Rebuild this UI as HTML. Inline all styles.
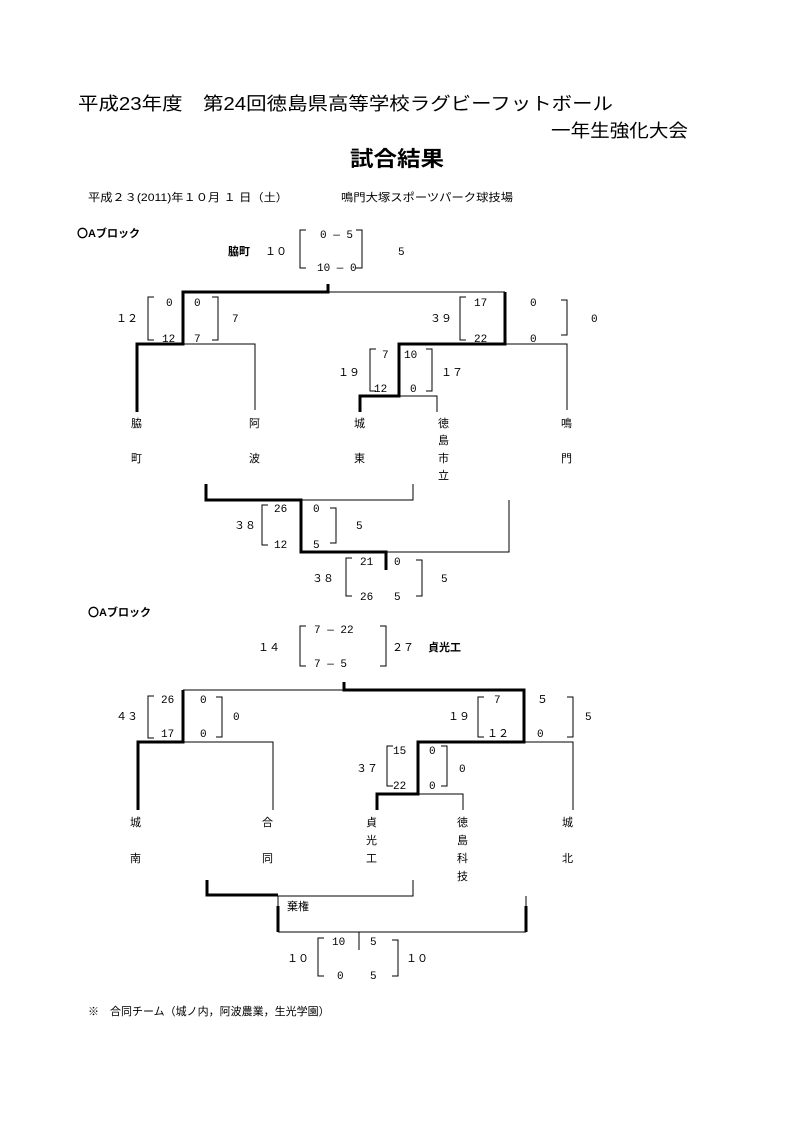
<!DOCTYPE html>
<html><head><meta charset="utf-8"><style>
html,body{margin:0;padding:0;background:#fff}
svg{display:block}
text{font-family:"Liberation Sans","Noto Sans CJK JP",sans-serif;fill:#000}
.s{font-size:11px}
.n{font-size:11px;font-family:"Liberation Mono","Noto Sans CJK JP",monospace}
.t{font-size:12px}
.b{font-weight:bold}
.th{stroke:#000;stroke-width:3;fill:none}
.tn{stroke:#000;stroke-width:1;fill:none}
</style></head><body>
<svg width="794" height="1123" viewBox="0 0 794 1123" xmlns="http://www.w3.org/2000/svg">
<text x="78" y="110" font-size="18" textLength="535" lengthAdjust="spacingAndGlyphs">平成23年度　第24回徳島県高等学校ラグビーフットボール</text>
<text x="551" y="137" font-size="18" textLength="137" lengthAdjust="spacingAndGlyphs">一年生強化大会</text>
<text x="350" y="166" font-size="21" font-weight="bold" textLength="94" lengthAdjust="spacingAndGlyphs">試合結果</text>
<text x="88" y="201" class="s" textLength="200" lengthAdjust="spacingAndGlyphs">平成２３(2011)年１０月 １ 日（土）</text>
<text x="341" y="201" class="s" textLength="172" lengthAdjust="spacingAndGlyphs">鳴門大塚スポーツパーク球技場</text>

<!-- Block 1 -->
<text x="77" y="237" class="s b">〇Aブロック</text>
<text x="228" y="255" class="s b">脇町</text>
<text x="265" y="255" class="n">１０</text>
<path class="tn" d="M306 230H300V268H306M356 230H362V268H356"/>
<text x="320" y="238" class="n">0 — 5</text>
<text x="317" y="271" class="n">10 — 0</text>
<text x="398" y="255" class="n">5</text>

<path class="th" d="M328 284V292H183V344H137V412"/>
<path class="tn" d="M328 292H505M183 344H255V410"/>
<path class="tn" d="M154 297H148V340H154M212 297H218V340H212"/>
<text x="166" y="306" class="n">0</text><text x="162" y="342" class="n">12</text>
<text x="194" y="306" class="n">0</text><text x="194" y="342" class="n">7</text>
<text x="116" y="322" class="n">１２</text><text x="232" y="322" class="n">7</text>

<path class="th" d="M505 292V344H399V396H360V412"/>
<path class="tn" d="M505 344H567V410M399 396H437V412"/>
<path class="tn" d="M466 297H460V340H466M561 300H567V335H561"/>
<text x="474" y="306" class="n">17</text><text x="474" y="342" class="n">22</text>
<text x="530" y="306" class="n">0</text><text x="530" y="342" class="n">0</text>
<text x="430" y="322" class="n">３９</text><text x="591" y="322" class="n">0</text>

<path class="tn" d="M376 349H370V391H376M426 349H432V391H426"/>
<text x="382" y="358" class="n">7</text><text x="374" y="392" class="n">12</text>
<text x="404" y="358" class="n">10</text><text x="410" y="392" class="n">0</text>
<text x="338" y="376" class="n">１９</text><text x="441" y="376" class="n">１７</text>

<g class="s">
<text x="131" y="427">脇</text><text x="131" y="462">町</text>
<text x="249" y="427">阿</text><text x="249" y="462">波</text>
<text x="354" y="427">城</text><text x="354" y="462">東</text>
<text x="438" y="427">徳</text><text x="438" y="444">島</text><text x="438" y="462">市</text><text x="438" y="479">立</text>
<text x="561" y="427">鳴</text><text x="561" y="462">門</text>
</g>

<path class="th" d="M206 484V500H301V552H386V570"/>
<path class="tn" d="M301 500H413V484M386 552H509V500"/>
<path class="tn" d="M268 505H262V545H268M330 508H336V543H330"/>
<text x="274" y="512" class="n">26</text><text x="274" y="548" class="n">12</text>
<text x="313" y="512" class="n">0</text><text x="313" y="548" class="n">5</text>
<text x="234" y="529" class="n">３８</text><text x="356" y="529" class="n">5</text>
<path class="tn" d="M352 558H346V596H352M416 560H422V596H416"/>
<text x="360" y="565" class="n">21</text><text x="360" y="600" class="n">26</text>
<text x="394" y="565" class="n">0</text><text x="394" y="600" class="n">5</text>
<text x="312" y="582" class="n">３８</text><text x="441" y="582" class="n">5</text>

<!-- Block 2 -->
<text x="88" y="616" class="s b">〇Aブロック</text>
<text x="258" y="651" class="n">１４</text>
<path class="tn" d="M306 626H300V666H306M380 626H386V666H380"/>
<text x="314" y="633" class="n">7 — 22</text>
<text x="314" y="667" class="n">7 — 5</text>
<text x="392" y="651" class="n">２７</text>
<text x="428" y="651" class="s b">貞光工</text>

<path class="th" d="M344 682V690H524V742H418V794H377V810M183 690V742H138V810"/>
<path class="tn" d="M183 690H344M183 742H273V810M524 742H573V810M418 794H463V810"/>
<path class="tn" d="M154 696H148V738H154M216 697H222V737H216"/>
<text x="161" y="703" class="n">26</text><text x="161" y="737" class="n">17</text>
<text x="200" y="703" class="n">0</text><text x="200" y="737" class="n">0</text>
<text x="116" y="720" class="n">４３</text><text x="233" y="720" class="n">0</text>
<path class="tn" d="M484 697H478V737H484M567 697H573V737H567"/>
<text x="494" y="703" class="n">7</text><text x="487" y="737" class="n">１２</text>
<text x="537" y="703" class="n">５</text><text x="537" y="737" class="n">0</text>
<text x="448" y="720" class="n">１９</text><text x="585" y="720" class="n">5</text>
<path class="tn" d="M393 746H387V786H393M441 746H447V786H441"/>
<text x="393" y="754" class="n">15</text><text x="393" y="789" class="n">22</text>
<text x="429" y="754" class="n">0</text><text x="429" y="789" class="n">0</text>
<text x="356" y="772" class="n">３７</text><text x="459" y="772" class="n">0</text>

<g class="s">
<text x="130" y="826">城</text><text x="130" y="862">南</text>
<text x="262" y="826">合</text><text x="262" y="862">同</text>
<text x="366" y="826">貞</text><text x="366" y="844">光</text><text x="366" y="862">工</text>
<text x="457" y="826">徳</text><text x="457" y="844">島</text><text x="457" y="862">科</text><text x="457" y="880">技</text>
<text x="562" y="826">城</text><text x="562" y="862">北</text>
</g>

<path class="th" d="M207 880V895H278M278 906V932M526 906V932"/>
<path class="tn" d="M278 896H413V880M278 896V906M526 896V906M278 932H526M359 932V950"/>
<text x="287" y="910" class="s">棄権</text>
<path class="tn" d="M324 938H318V976H324M392 940H398V976H392"/>
<text x="332" y="945" class="n">10</text><text x="337" y="979" class="n">0</text>
<text x="370" y="945" class="n">5</text><text x="370" y="979" class="n">5</text>
<text x="287" y="962" class="n">１０</text><text x="406" y="962" class="n">１０</text>

<text x="88" y="1015" class="s">※　合同チーム（城ノ内，阿波農業，生光学園）</text>
</svg>
</body></html>
